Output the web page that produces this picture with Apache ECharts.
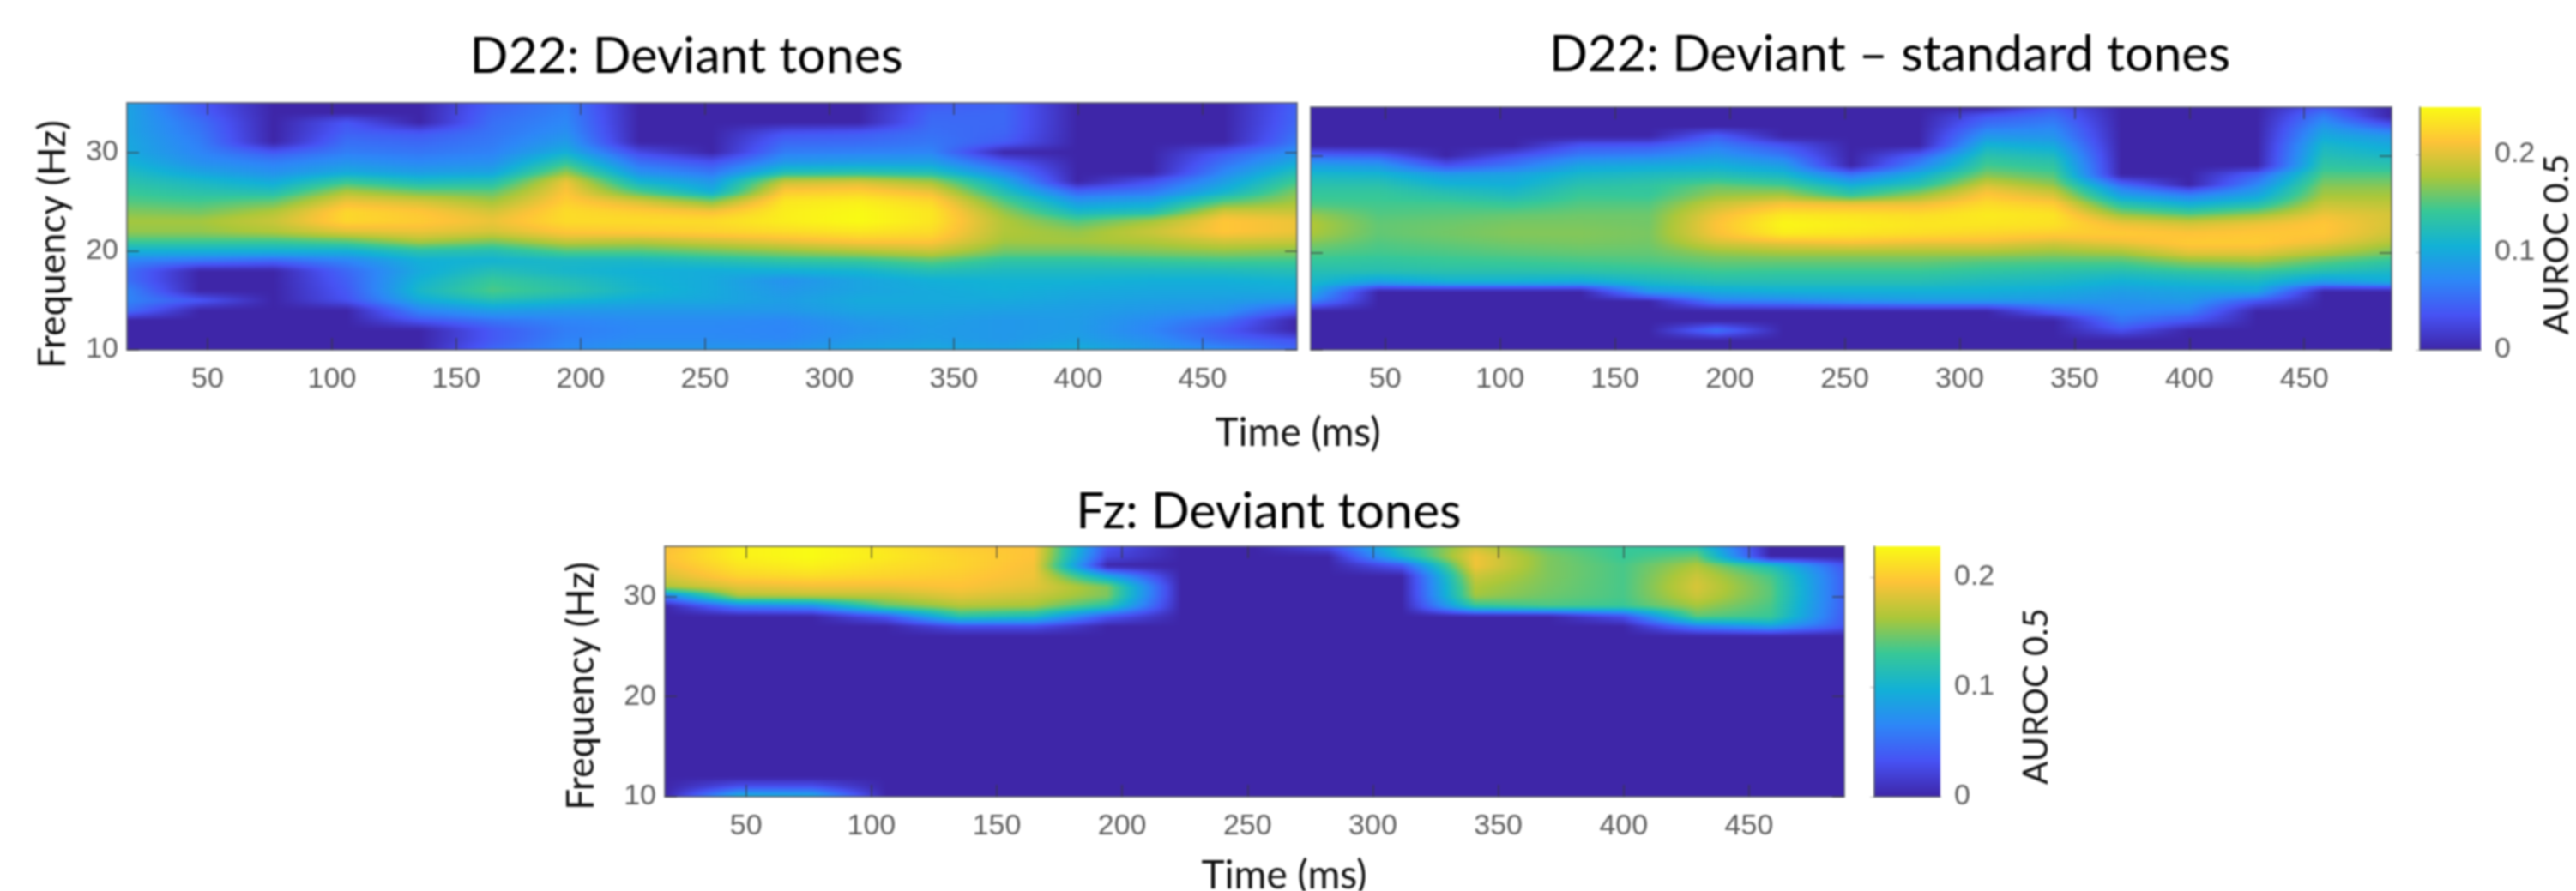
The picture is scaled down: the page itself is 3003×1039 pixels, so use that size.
<!DOCTYPE html>
<html><head><meta charset="utf-8">
<style>html,body{margin:0;padding:0;background:#fff}#c{width:3003px;height:1039px;filter:blur(0.8px)}</style>
<script src="https://cdn.jsdelivr.net/npm/echarts@6/dist/echarts.min.js"></script>
</head><body><div id="c"></div>
<script>
// Axis values
const timesMs = [17.6,47,76.4,105.8,135.2,164.6,194,223.4,252.8,282.2,311.6,341,370.4,399.8,429.2,458.6,488];
const freqsHz = [35,34,33,32,31,30,29,28,27,26,25,24,23,22,21,20,19,18,17,16,15,14,13,12,11,10];
const timeTicks = [50,100,150,200,250,300,350,400,450];
const freqTicks = [10,20,30];
const colorbarTicksAB = [0,0.1,0.2];
const colorbarTicksC = [0,0.1,0.2];
const colorMaxAB = 0.248;
const colorMaxC = 0.228;
const titles = ['D22: Deviant tones','D22: Deviant – standard tones','Fz: Deviant tones'];

// AUROC-0.5 in thousandths; one row per time, frequency from 35 Hz down to 10 Hz
const d22Deviant = [
[95,95,95,95,98,100,108,120,130,141,150,165,175,170,145,105, 70,55,55,70,70,55,0,0,0,0],
[40,45,55,60,65,70,78,95,115,130,145,160,175,170,145,105, 60,0,0,0,40,0,0,0,0,0],
[0,0,0,0,0,40,65,80,100,125,155,180,190,180,145,105, 50,0,0,0,0,0,0,0,0,0],
[0,0,38,45,55,65,80,100,140,180,205,225,225,200,155,105, 70,50,45,40,35,0,0,0,0,0],
[0,0,0,38,50,60,72,90,120,160,195,215,218,205,180,130, 105,100,108,115,100,70,40,0,0,0],
[45,50,55,58,62,68,78,95,125,155,175,195,205,195,165,125, 108,125,140,148,125,90,60,40,40,50],
[65,68,72,78,88,105,135,170,205,213,220,228,228,215,190,150, 115,112,125,132,112,85,70,65,68,75],
[0,0,0,0,0,30,55,80,110,150,195,220,228,218,185,150, 115,105,108,112,100,85,75,72,75,85],
[0,0,0,0,0,0,35,60,85,105,165,210,228,222,195,160, 125,102,100,100,98,85,75,72,75,85],
[0,0,0,35,50,65,85,125,190,218,235,240,240,228,205,170, 135,105,80,85,90,85,72,70,72,85],
[0,0,0,40,52,68,90,130,195,222,240,247,248,235,215,180, 140,110,95,95,100,95,85,80,85,95],
[40,48,52,55,60,70,90,125,175,205,225,235,235,228,215,190, 155,125,105,100,100,95,90,88,90,100],
[48,50,50,48,42,0,40,70,100,125,150,170,180,180,175,160, 135,118,108,105,100,92,85,85,85,95],
[0,0,0,0,0,0,0,0,0,50,85,115,150,170,175,160, 135,118,108,100,95,90,88,88,92,105],
[0,0,0,0,0,0,0,0,35,62,95,125,175,190,180,165, 140,118,105,98,92,85,75,70,78,90],
[0,0,0,0,0,38,55,72,90,110,150,195,215,215,195,170, 145,120,105,98,90,80,55,40,50,75],
[45,48,50,55,62,80,100,125,145,165,175,190,205,205,190,165, 145,125,110,100,85,38,0,0,35,50]
];
const d22DeviantMinusStandard = [
[0,0,0,0,0,50,90,115,130,140,148,170,180,178,165,150, 138,125,115,100,70,0,0,0,0,0],
[0,0,0,0,0,45,85,112,130,140,145,150,155,155,150,145, 135,125,90,0,0,0,0,0,0,0],
[0,0,0,0,0,0,35,90,110,130,145,152,158,160,155,148, 140,128,105,0,0,0,0,0,0,0],
[0,0,0,0,0,35,60,95,105,120,140,155,162,165,160,152, 142,128,105,0,0,0,0,0,0,0],
[0,0,0,0,38,65,95,115,130,142,150,158,162,165,162,155, 145,130,100,0,0,0,0,0,0,0],
[0,0,0,0,40,70,100,120,135,140,150,158,160,162,160,155, 148,135,115,85,0,0,0,0,0,0],
[0,0,0,45,65,85,105,125,155,170,190,205,212,210,195,170, 155,142,125,100,65,0,0,60,0,0],
[0,0,0,0,38,62,90,115,145,175,210,235,245,240,205,175, 155,140,125,105,70,0,0,0,0,0],
[0,0,0,0,0,0,0,60,105,135,205,232,240,235,210,175, 155,140,125,105,80,0,0,0,0,0],
[0,0,0,0,0,45,70,105,130,170,205,228,235,230,205,175, 155,140,125,105,85,0,0,0,0,0],
[0,40,60,85,110,130,145,165,195,215,228,238,235,225,205,175, 150,135,118,105,85,0,0,0,0,0],
[40,55,70,82,100,120,135,150,170,195,218,233,232,220,195,170, 148,130,115,100,85,45,0,0,0,0],
[0,0,0,0,0,0,0,0,55,90,130,170,205,218,205,175, 148,125,105,90,80,72,60,35,0,0],
[0,0,0,0,0,0,0,0,0,65,105,150,195,212,218,200, 165,135,112,95,85,65,38,0,0,0],
[0,0,0,0,0,0,0,48,72,95,125,170,205,215,218,200, 170,140,115,95,38,0,0,0,0,0],
[42,65,85,100,115,125,135,150,165,175,190,205,215,215,205,180, 150,125,85,0,0,0,0,0,0,0],
[0,0,45,85,100,115,130,150,165,175,185,195,195,192,180,160, 135,115,100,0,0,0,0,0,0,0]
];
const fzDeviant = [
[190,195,190,180,165,60,0,0,0,0,0,0,0,0,0,0, 0,0,0,0,0,0,0,0,0,0],
[222,222,215,205,185,165,60,0,0,0,0,0,0,0,0,0, 0,0,0,0,0,0,0,0,30,100],
[228,228,222,210,190,170,70,0,0,0,0,0,0,0,0,0, 0,0,0,0,0,0,0,0,30,95],
[215,218,212,205,190,170,140,35,0,0,0,0,0,0,0,0, 0,0,0,0,0,0,0,0,0,0],
[200,205,205,200,195,185,165,120,30,0,0,0,0,0,0,0, 0,0,0,0,0,0,0,0,0,0],
[195,195,192,190,185,175,160,110,30,0,0,0,0,0,0,0, 0,0,0,0,0,0,0,0,0,0],
[35,25,0,90,150,150,120,35,0,0,0,0,0,0,0,0, 0,0,0,0,0,0,0,0,0,0],
[0,0,0,0,0,0,0,0,0,0,0,0,0,0,0,0, 0,0,0,0,0,0,0,0,0,0],
[0,0,0,0,0,0,0,0,0,0,0,0,0,0,0,0, 0,0,0,0,0,0,0,0,0,0],
[30,0,0,0,0,0,0,0,0,0,0,0,0,0,0,0, 0,0,0,0,0,0,0,0,0,0],
[120,105,35,0,0,0,0,0,0,0,0,0,0,0,0,0, 0,0,0,0,0,0,0,0,0,0],
[175,190,190,175,165,160,125,0,0,0,0,0,0,0,0,0, 0,0,0,0,0,0,0,0,0,0],
[140,150,150,150,148,145,135,0,0,0,0,0,0,0,0,0, 0,0,0,0,0,0,0,0,0,0],
[130,130,135,135,135,135,130,30,0,0,0,0,0,0,0,0, 0,0,0,0,0,0,0,0,0,0],
[120,145,165,175,180,175,160,140,60,0,0,0,0,0,0,0, 0,0,0,0,0,0,0,0,0,0],
[0,0,115,135,140,140,135,130,85,0,0,0,0,0,0,0, 0,0,0,0,0,0,0,0,0,0],
[0,0,35,40,40,40,40,38,35,0,0,0,0,0,0,0, 0,0,0,0,0,0,0,0,0,0]
];

// Parula colour map
const parula = ['#3e26a8','#4752f4','#2d87f7','#12b1d6','#37c897','#abc739','#fec338','#f9fb14'];
function rgbOf(h){return [parseInt(h.slice(1,3),16),parseInt(h.slice(3,5),16),parseInt(h.slice(5,7),16)];}
const parulaRgb = parula.map(rgbOf);
function colorAt(frac){
  const f = Math.max(0,Math.min(1,frac))*(parulaRgb.length-1);
  const i = Math.min(parulaRgb.length-2,Math.floor(f)), u=f-i;
  const a=parulaRgb[i], b=parulaRgb[i+1];
  return 'rgb('+[0,1,2].map(k=>Math.round(a[k]+(b[k]-a[k])*u)).join(',')+')';
}

// Every cell of a table becomes one data item; corners are the read values.
function cellsOf(table){
  const out=[];
  for(let i=0;i<timesMs.length-1;i++) for(let j=0;j<freqsHz.length-1;j++){
    out.push([timesMs[i],freqsHz[j],timesMs[i+1],freqsHz[j+1],
      table[i][j]/1000,table[i+1][j]/1000,table[i][j+1]/1000,table[i+1][j+1]/1000]);
  }
  return out;
}
const STRIPS=4, SAMPLES=10;
// Draws a cell with interpolated shading between its four corner values (MATLAB "shading interp")
function shadedCell(colorMax){
  return function(params,api){
    const p0=api.coord([api.value(0),api.value(1)]), p1=api.coord([api.value(2),api.value(3)]);
    const v=[api.value(4),api.value(5),api.value(6),api.value(7)];
    const x0=Math.round(Math.min(p0[0],p1[0])), x1=Math.round(Math.max(p0[0],p1[0]));
    const top=Math.min(p0[1],p1[1]), h=Math.abs(p1[1]-p0[1]);
    const children=[];
    if(v[0]===0&&v[1]===0&&v[2]===0&&v[3]===0){
      const y0=Math.round(top), y1=Math.round(top+h);
      children.push({type:'rect',shape:{x:x0,y:y0,width:x1-x0,height:y1-y0},style:{fill:parula[0]}});
    } else for(let s=0;s<STRIPS;s++){
      const y0=Math.round(top+h*s/STRIPS), y1=Math.round(top+h*(s+1)/STRIPS);
      if(y1<=y0) continue;
      const u=(s+0.5)/STRIPS;
      const left=v[0]+(v[2]-v[0])*u, right=v[1]+(v[3]-v[1])*u;
      const stops=[];
      for(let k=0;k<=SAMPLES;k++){
        const t=k/SAMPLES;
        stops.push({offset:t,color:colorAt((left+(right-left)*t)/colorMax)});
      }
      children.push({type:'rect',
        shape:{x:x0,y:y0,width:x1-x0,height:y1-y0},
        style:{fill:new echarts.graphic.LinearGradient(0,0,1,0,stops)}});
    }
    return {type:'group',children};
  };
}
function colorbarBar(params,api){
  const p0=api.coord([0,0]), p1=api.coord([1,api.value(1)]);
  const stops=parula.map((c,i)=>({offset:1-i/(parula.length-1),color:c}));
  return {type:'rect',
    shape:{x:p0[0],y:p1[1],width:p1[0]-p0[0],height:p0[1]-p1[1]},
    style:{fill:new echarts.graphic.LinearGradient(0,0,0,1,stops)}};
}

const TICK='#3a3a3a', LABEL='#5c5c5c', LINE='#555a66';
const grids=[
  {left:148,top:120,width:1364,height:288},
  {left:1528,top:125,width:1260,height:283},
  {left:775,top:637,width:1375,height:292},
  {left:2821,top:125,width:71,height:283},
  {left:2185,top:637,width:77,height:292}
];
const xAxes=[],yAxes=[];
function heatAxes(g,showY){
  const line={show:true,onZero:false,lineStyle:{color:LINE,width:1.5}};
  const tick={show:true,inside:true,length:14,lineStyle:{color:TICK,width:1.5,opacity:.75}};
  const xBase={type:'value',gridIndex:g,min:17.6,max:488,splitLine:{show:false},axisLine:line,z:5,
    axisTick:Object.assign({customValues:timeTicks},tick)};
  const yBase={type:'value',gridIndex:g,min:10,max:35,splitLine:{show:false},axisLine:line,z:5,
    axisTick:Object.assign({customValues:freqTicks},tick)};
  xAxes.push(Object.assign({},xBase,{position:'bottom',
    axisLabel:{customValues:timeTicks,margin:18,fontFamily:'Liberation Sans',fontSize:34,color:LABEL}}));
  xAxes.push(Object.assign({},xBase,{position:'top',axisLabel:{show:false}}));
  yAxes.push(Object.assign({},yBase,{position:'left',
    axisLabel:showY?{customValues:freqTicks,margin:10,padding:[4,0,0,0],fontFamily:'Liberation Sans',fontSize:34,color:LABEL}:{show:false}}));
  yAxes.push(Object.assign({},yBase,{position:'right',axisLabel:{show:false}}));
}
heatAxes(0,true);
heatAxes(1,false);
heatAxes(2,true);

function colorbarAxes(g,maxV,ticks){
  xAxes.push({type:'value',gridIndex:g,min:0,max:1,show:true,position:'bottom',
    axisLine:{show:true,lineStyle:{color:LINE,width:1.5}},axisTick:{show:false},axisLabel:{show:false},splitLine:{show:false},z:5});
  yAxes.push({type:'value',gridIndex:g,min:0,max:maxV,position:'right',splitLine:{show:false},z:5,
    axisLine:{show:true,lineStyle:{color:LINE,width:1.5}},
    axisTick:{show:true,inside:true,length:5,customValues:ticks,lineStyle:{color:TICK,opacity:.35}},
    axisLabel:{customValues:ticks,margin:16,padding:[4,0,0,0],fontFamily:'Liberation Sans',fontSize:34,color:LABEL,
      formatter:v=>String(+v.toFixed(2))}});
}
colorbarAxes(3,colorMaxAB,colorbarTicksAB);
colorbarAxes(4,colorMaxC,colorbarTicksC);

function heatSeries(table,i,maxV){
  return {type:'custom',name:titles[i],xAxisIndex:i*2,yAxisIndex:i*2,coordinateSystem:'cartesian2d',
    clip:true,silent:true,animation:false,z:2,
    renderItem:shadedCell(maxV),encode:{x:[0,2],y:[1,3]},data:cellsOf(table)};
}
function barSeries(axis,maxV){
  return {type:'custom',xAxisIndex:axis,yAxisIndex:axis,silent:true,animation:false,z:2,
    renderItem:colorbarBar,encode:{x:0,y:1},data:[[0,maxV]]};
}
function verticalName(text,x,y,size,rotation){
  return {type:'text',x,y,rotation,silent:true,z:10,
    style:{text,fontFamily:'Lato',fontSize:size,fill:'#111',align:'center',verticalAlign:'middle'}};
}
const titleStyle={fontFamily:'Lato',fontSize:59,fontWeight:'normal',color:'#000'};
const nameStyle={fontFamily:'Lato',fontSize:46,fontWeight:'normal',color:'#111'};
const chart=echarts.init(document.getElementById('c'),null,{renderer:'canvas'});
chart.setOption({
  animation:false,backgroundColor:'#fff',
  title:[
    {text:titles[0],left:795,top:31,textAlign:'center',textStyle:titleStyle},
    {text:titles[1],left:2198,top:29,textAlign:'center',textStyle:titleStyle},
    {text:titles[2],left:1474,top:562,textAlign:'center',textStyle:titleStyle},
    {text:'Time (ms)',left:1508,top:477,textAlign:'center',textStyle:nameStyle},
    {text:'Time (ms)',left:1492,top:993,textAlign:'center',textStyle:nameStyle}
  ],
  graphic:[
    verticalName('Frequency (Hz)',62,285,44,Math.PI/2),
    verticalName('Frequency (Hz)',678,800,44,Math.PI/2),
    verticalName('AUROC 0.5',2981,285,41,Math.PI/2),
    verticalName('AUROC 0.5',2374,812,40,Math.PI/2)
  ],
  grid:grids,xAxis:xAxes,yAxis:yAxes,
  series:[
    heatSeries(d22Deviant,0,colorMaxAB),
    heatSeries(d22DeviantMinusStandard,1,colorMaxAB),
    heatSeries(fzDeviant,2,colorMaxC),
    barSeries(6,colorMaxAB),
    barSeries(7,colorMaxC)
  ]
});
</script></body></html>
